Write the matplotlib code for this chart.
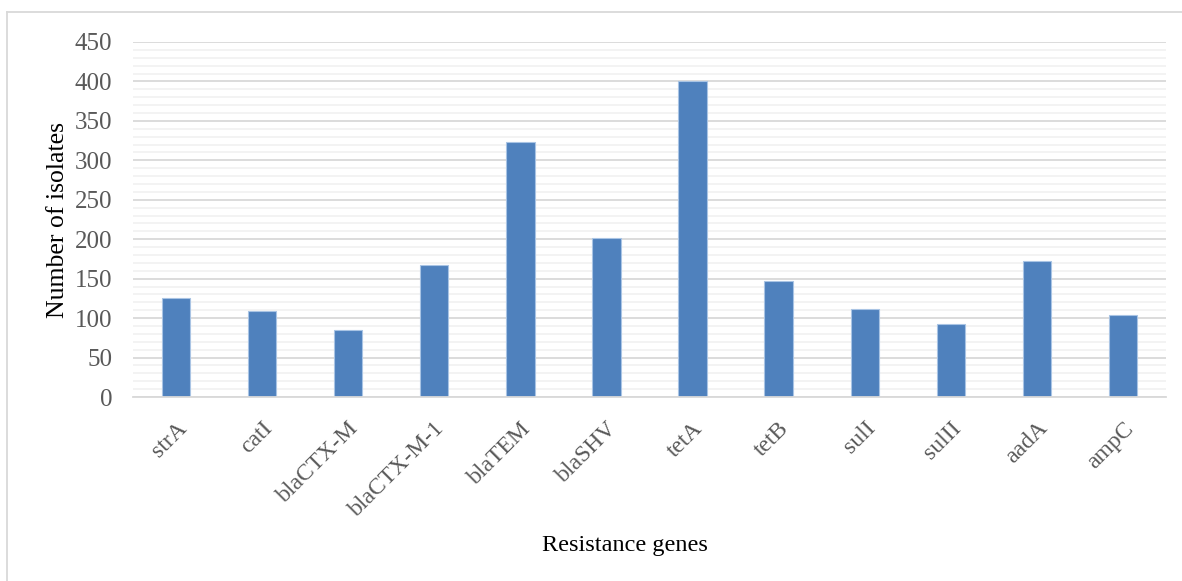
import matplotlib
matplotlib.use("Agg")
import matplotlib.pyplot as plt
from matplotlib.ticker import MultipleLocator
from matplotlib.lines import Line2D

genes = ["strA", "catI", "blaCTX-M", "blaCTX-M-1", "blaTEM", "blaSHV",
         "tetA", "tetB", "sulI", "sulII", "aadA", "ampC"]
isolates = [126, 109, 85, 167, 323, 201, 401, 147, 111, 92, 172, 104]

plt.rcParams["font.family"] = ["Liberation Serif", "DejaVu Serif"]

W, H = 1182, 581
fig = plt.figure(figsize=(W / 100, H / 100), dpi=100)
ax = fig.add_axes([133 / W, 1 - 397 / H, (1166 - 133) / W, (397 - 42) / H])

x = range(len(genes))
ax.bar(x, isolates, width=0.33, color="#4F81BD", edgecolor="#A9C4E4",
       linewidth=0.8, zorder=3)

ax.set_xlim(-0.5, len(genes) - 0.5)
ax.set_ylim(0, 450)
ax.yaxis.set_major_locator(MultipleLocator(50))
ax.yaxis.set_minor_locator(MultipleLocator(10))
ax.grid(axis="y", which="major", color="#D9D9D9", linewidth=1.3, zorder=0)
ax.grid(axis="y", which="minor", color="#F2F2F2", linewidth=1.3, zorder=0)

for s in ["top", "right", "left"]:
    ax.spines[s].set_visible(False)
ax.spines["bottom"].set_color("#D9D9D9")
ax.spines["bottom"].set_linewidth(1.3)
ax.spines["bottom"].set_zorder(4)

ax.tick_params(axis="y", which="both", length=0, pad=15, labelsize=18,
               labelcolor="#595959")
ax.tick_params(axis="x", length=0, pad=15, labelsize=17, labelcolor="#595959")
ax.set_xticks(list(x))
ax.set_xticklabels(genes, rotation=45, ha="right", va="top",
                   rotation_mode="anchor")

fig.text(58 / W, 1 - 220 / H, "Number of isolates", fontsize=18.5,
         rotation=90, ha="center", va="center", color="black")
fig.text(625 / W, 1 - 545 / H, "Resistance genes", fontsize=17.5,
         ha="center", va="center", color="black")

# chart area border (top and left visible)
fig.add_artist(Line2D([7 / W, 1.0], [1 - 12 / H, 1 - 12 / H],
                      transform=fig.transFigure, color="#D9D9D9", linewidth=1.3))
fig.add_artist(Line2D([7 / W, 7 / W], [0, 1 - 12 / H],
                      transform=fig.transFigure, color="#D9D9D9", linewidth=1.3))

fig.savefig("out.png", dpi=100)
